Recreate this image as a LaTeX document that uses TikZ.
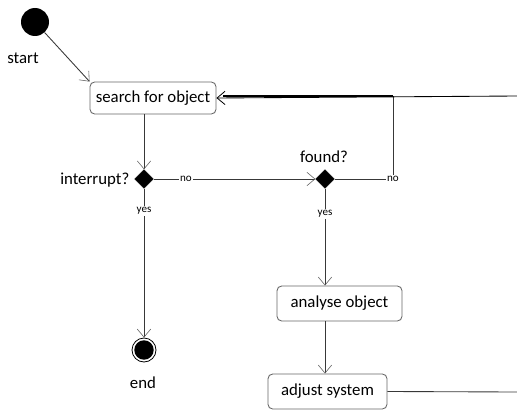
\documentclass[tikz,border=0pt]{standalone}
\usepackage{fontspec}
\setmainfont{Carlito}
\usetikzlibrary{arrows.meta,shapes.geometric}
\definecolor{edgegray}{HTML}{383838}
\definecolor{boxgray}{HTML}{666666}
\begin{document}
\begin{tikzpicture}[x=0.75pt,y=-0.75pt,
  font=\fontsize{12.6}{15}\selectfont,
  action/.style={draw=boxgray, line width=0.65pt, rounded corners=3.5pt, inner sep=0pt},
  decision/.style={diamond, fill=black, draw=black, inner sep=0pt, minimum size=14pt},
  initialstate/.style={circle, fill=black, inner sep=0pt, minimum size=21pt},
  finalstate/.style={circle, draw=black, line width=0.6pt, inner sep=0pt, minimum size=18pt,
    path picture={\fill[black] (path picture bounding box.center) circle (7.3pt);}},
  flow/.style={draw=edgegray, line width=0.65pt,
    -{Straight Barb[length=6pt, width=10pt, line width=0.45pt, color=boxgray]}},
  plain/.style={draw=edgegray, line width=0.65pt},
  guard/.style={fill=white, inner sep=1pt, font=\fontsize{8.3}{10}\selectfont}]
\useasboundingbox (0,0) rectangle (517,410);

% states and actions
\node[initialstate] (start) at (35,22) {};
\node (startlbl) at (23,58) {start};
\node[action, minimum width=94.5pt, minimum height=24pt] (search) at (153,98) {search for object};
\node[decision] (intr) at (144,179) {};
\node[anchor=east] (intrlbl) at (134,180) {interrupt?};
\node[decision] (found) at (325,179) {};
\node (foundlbl) at (324,157) {found?};
\node[finalstate] (end) at (144,350) {};
\node (endlbl) at (143,383) {end};
\node[action, minimum width=93.75pt, minimum height=26.25pt] (analyse) at (339.5,303.5) {analyse object};
\node[action, minimum width=89.25pt, minimum height=26.25pt] (adjust) at (327.5,391.5) {adjust system};

% free ends running past the right border
\coordinate (loopin) at (517,96);
\coordinate (loopout) at (517,392);
\coordinate (noturn) at (393,96);

% control flow
\draw[flow] (start) -- (search.north west);
\draw[flow] (search.south -| intr) -- (intr.north);
\draw[flow] (intr.east) -- node[guard, pos=0.2] {no} (found.west);
\draw[flow] (intr.south) -- node[guard, pos=0.15] {yes} (end.north);
\draw[flow] (found.south) -- node[guard, pos=0.26] {yes} (found.south |- analyse.north);
\draw[flow] (found.south |- analyse.south) -- (found.south |- adjust.north);
\draw[plain] (found.east) -| node[guard, pos=0.5] {no} (noturn);
\draw[draw=black, line width=0.65pt,
  -{Straight Barb[length=6pt, width=10pt, line width=0.6pt, color=black]}] (loopin) -- (search.east);
\draw[black, line width=0.85pt] (noturn) -- ([xshift=5pt]search.east |- noturn);
\draw[plain] (adjust.east) -- (loopout);
\end{tikzpicture}
\end{document}
